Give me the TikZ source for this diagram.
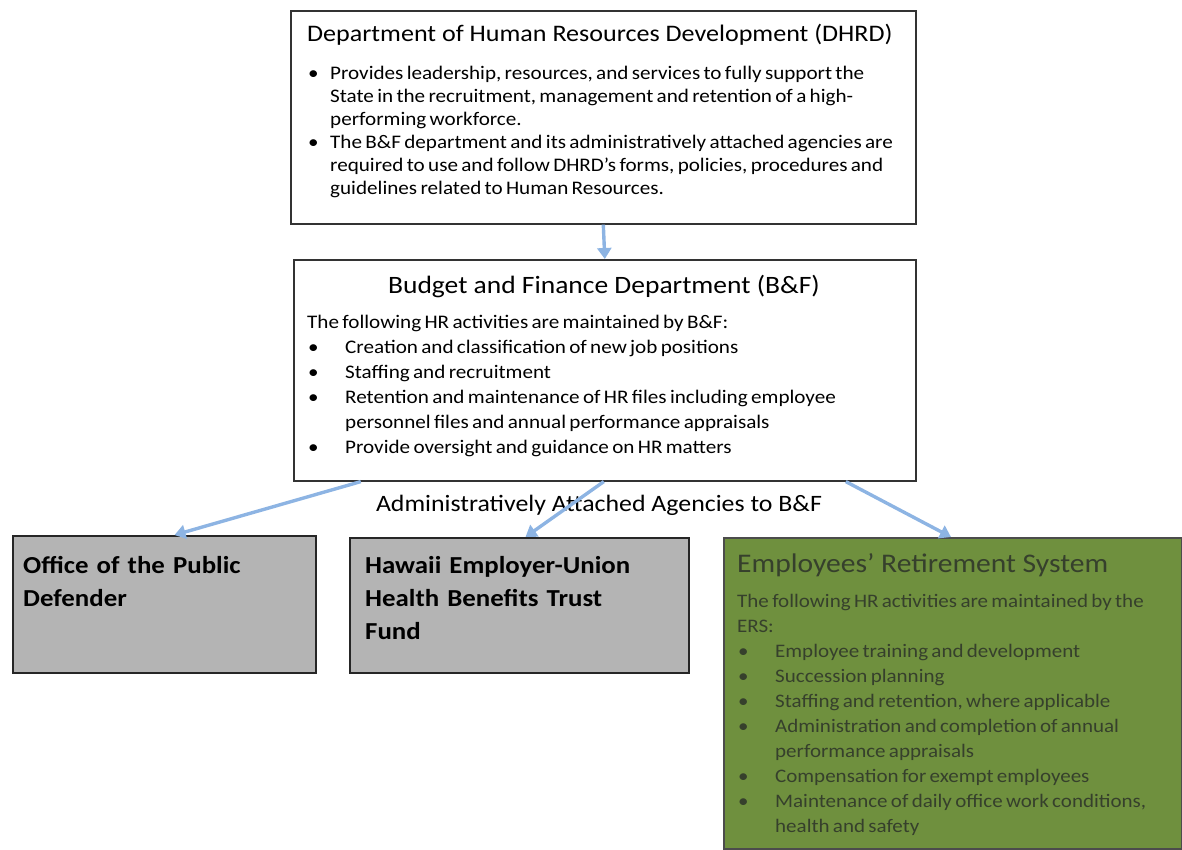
\documentclass[tikz,border=0pt]{standalone}
\usepackage{fontspec}
\setmainfont{Carlito}[FakeStretch=1.1]
\usetikzlibrary{arrows.meta}
\definecolor{arrowblue}{HTML}{8DB4E3}
\definecolor{boxgray}{HTML}{B4B4B4}
\definecolor{ersgreen}{HTML}{6F903E}
\definecolor{erstext}{HTML}{36402C}
\definecolor{edgecol}{HTML}{333333}
\newcommand{\hitem}[3]{\noindent\hangindent=#2\hangafter=1\hbox to #2{\hspace{#1}\textbullet\hfil}#3\par}
\tikzset{
  box/.style={draw=edgecol, line width=1.6pt, anchor=north west, inner sep=0pt},
  whitebox/.style={box, fill=white},
  graybox/.style={box, draw=black!85, line width=2pt, fill=boxgray},
  greenbox/.style={box, draw=black!70, line width=2pt, fill=ersgreen},
  txt/.style={anchor=base west, inner sep=0pt},
  link/.style={draw=arrowblue, line width=3.4pt, -{Triangle[length=11pt,width=14pt]}},
}
\begin{document}
\begin{tikzpicture}[x=1pt,y=-1pt]
\useasboundingbox (0,0) rectangle (1182,850);
% boxes
\node[whitebox, minimum width=625pt, minimum height=213pt] (dhrd) at (290,10) {};
\node[whitebox, minimum width=622pt, minimum height=221pt] (bf) at (293,259) {};
\node[graybox, minimum width=303pt, minimum height=137pt] (opd) at (12,535) {};
\node[graybox, minimum width=339pt, minimum height=135pt] (eutf) at (349,537) {};
\node[greenbox, minimum width=458pt, minimum height=311pt] (ers) at (723,537) {};
% DHRD text
\node[txt, font=\fontsize{23.7}{28}\selectfont] (dhrdhead) at (307,42) {Department of Human Resources Development (DHRD)};
\node[txt, text width=640pt] (dhrdtxt) at (307,80) {\fontsize{19.2}{22.9}\selectfont\raggedright
  \hitem{1pt}{23pt}{Provides leadership, resources, and services to fully support the\newline State in the recruitment, management and retention of a high-\newline performing workforce.}%
  \hitem{1pt}{23pt}{The B\&F department and its administratively attached agencies are\newline required to use and follow DHRD’s forms, policies, procedures and\newline guidelines related to Human Resources.}};
% B&F text
\node[anchor=base, inner sep=0pt, font=\fontsize{25}{30}\selectfont] (bfhead) at (604,293) {Budget and Finance Department (B\&F)};
\node[txt, text width=600pt] (bftxt) at (307,328) {\fontsize{19.2}{25}\selectfont\raggedright
  \noindent The following HR activities are maintained by B\&F:\par
  \hitem{1pt}{38pt}{Creation and classification of new job positions}%
  \hitem{1pt}{38pt}{Staffing and recruitment}%
  \hitem{1pt}{38pt}{Retention and maintenance of HR files including employee\newline personnel files and annual performance appraisals}%
  \hitem{1pt}{38pt}{Provide oversight and guidance on HR matters}};
% label
\node[anchor=base, inner sep=0pt, font=\fontsize{23.5}{28}\selectfont] (agencies) at (599,511) {Administratively Attached Agencies to B\&F};
% gray boxes text
\node[txt, text width=290pt, font=\fontsize{24.4}{33}\selectfont\bfseries] (opdtxt) at (23,573) {Office of the Public\newline Defender};
\node[txt, text width=320pt, font=\fontsize{24.4}{33}\selectfont\bfseries] (eutftxt) at (365,573) {Hawaii Employer-Union\newline Health Benefits Trust\newline Fund};
% ERS text
\node[txt, text=erstext, font=\fontsize{26.9}{32}\selectfont] (ershead) at (737,572) {Employees’ Retirement System};
\node[txt, text width=440pt, text=erstext] (erstxt) at (737,607) {\fontsize{19.1}{25}\selectfont\raggedright
  \noindent The following HR activities are maintained by the\newline ERS:\par
  \hitem{1pt}{38pt}{Employee training and development}%
  \hitem{1pt}{38pt}{Succession planning}%
  \hitem{1pt}{38pt}{Staffing and retention, where applicable}%
  \hitem{1pt}{38pt}{Administration and completion of annual\newline performance appraisals}%
  \hitem{1pt}{38pt}{Compensation for exempt employees}%
  \hitem{1pt}{38pt}{Maintenance of daily office work conditions,\newline health and safety}};
% connectors
\draw[link] (dhrd.south) -- (bf.north);
\draw[link] ([xshift=-244pt]bf.south) -- ([xshift=10pt]opd.north);
\draw[link] ([xshift=-1pt]bf.south) -- ([xshift=6pt]eutf.north);
\draw[link] ([xshift=241pt]bf.south) -- ([xshift=-2pt]ers.north);
\end{tikzpicture}
\end{document}
